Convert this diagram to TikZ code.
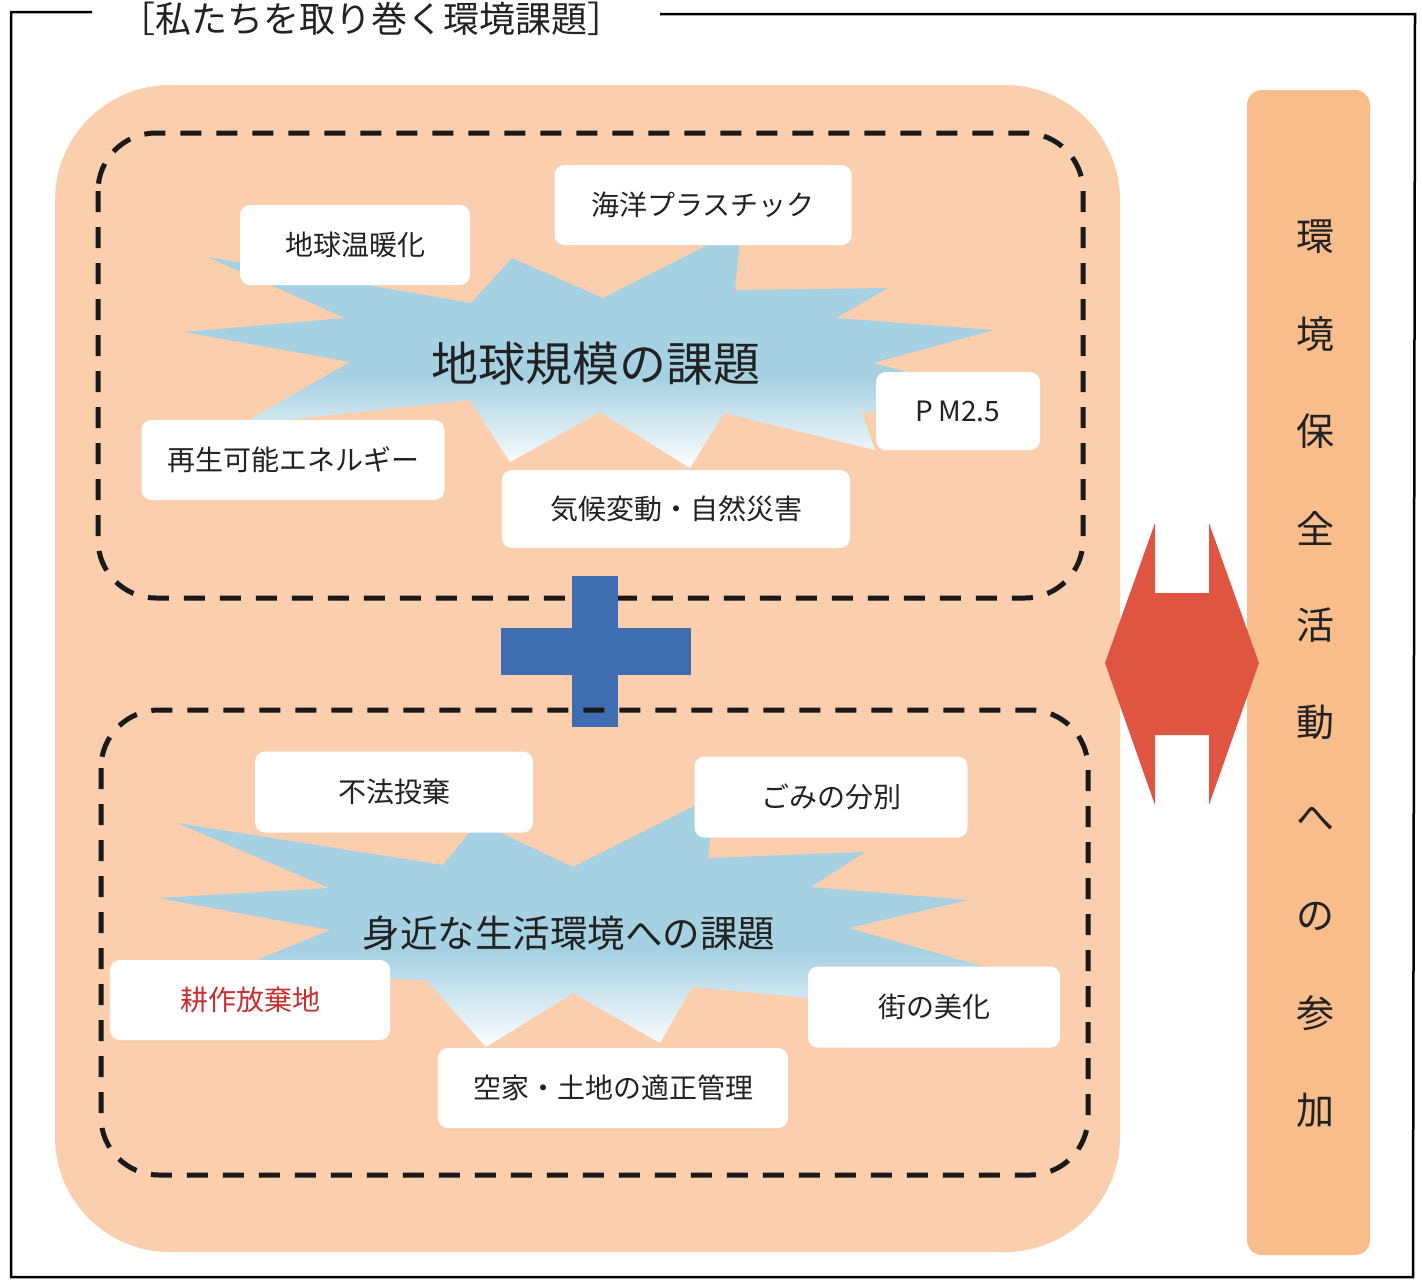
\documentclass[tikz,border=0pt]{standalone}
\usepackage{fontspec}
\setmainfont{Noto Sans CJK JP}
\definecolor{peach}{HTML}{FBCEAE}
\definecolor{colpeach}{HTML}{F8BD8B}
\definecolor{starblue}{HTML}{A6D1E3}
\definecolor{crossblue}{HTML}{3E6EB1}
\definecolor{arrowred}{HTML}{E05442}
\definecolor{labelred}{HTML}{C8302F}
\definecolor{ink}{HTML}{222222}
\pgfdeclareverticalshading{starfade}{100bp}{color(0bp)=(white); color(26bp)=(white!92!starblue); color(44bp)=(starblue); color(100bp)=(starblue)}
\begin{document}
\begin{tikzpicture}[x=1pt,y=-1pt,
  labelbox/.style={fill=white, rounded corners=10pt, inner sep=0pt, text=ink,
    font=\fontsize{28}{30}\selectfont},
  dashbox/.style={draw=black!90, line width=5pt, dash pattern=on 21pt off 15pt, rounded corners=58pt},
  frameline/.style={draw=black, line width=2.5pt},
  starshade/.style={shading=starfade},
  bigtitle/.style={inner sep=0pt, text=ink},
  vchar/.style={inner sep=0pt, text=ink, font=\fontsize{38}{40}\selectfont}]
\useasboundingbox (0,0) rectangle (1422,1280);
\fill[white] (0,0) rectangle (1422,1280);

% outer frame
\coordinate (fl1) at (92,12);
\coordinate (ftl) at (11,12);
\coordinate (fbl) at (11,1277);
\coordinate (fbr) at (1413,1277);
\coordinate (ftr) at (1415,14);
\coordinate (fr1) at (660,14);
\draw[frameline] (fl1) -- (ftl) -- (fbl) -- (fbr) -- (ftr) -- (fr1);
\node[inner sep=0pt, text=ink, font=\fontsize{36}{40}\selectfont] (title) at (371,19) {［私たちを取り巻く環境課題］};

% peach areas
\fill[peach, rounded corners=115pt] (55,85) rectangle (1120,1252);
\fill[colpeach, rounded corners=15pt] (1247,90) rectangle (1370,1255);

% starbursts
\shade[starshade] (184,332) -- (345,318) -- (207,257) -- (471,303) -- (512,258) -- (603,298)
  -- (741,228) -- (735,290) -- (888,288) -- (836,318) -- (994,330) -- (873,363) -- (1005,398)
  -- (862,413) -- (875,450) -- (724,413) -- (690,468) -- (600,412) -- (510,462) -- (470,400)
  -- (240,425) -- (350,362) -- cycle;
\shade[starshade] (158,898) -- (329,888) -- (177,823) -- (443,865) -- (478,822) -- (573,867)
  -- (716,795) -- (708,858) -- (865,852) -- (811,887) -- (968,900) -- (849,928) -- (985,967)
  -- (827,967) -- (830,1000) -- (692,987) -- (660,1043) -- (573,993) -- (486,1047) -- (426,980)
  -- (220,975) -- (330,930) -- cycle;

% upper labels
\node[labelbox, minimum width=230pt, minimum height=80pt] (gw) at (355,245) {地球温暖化};
\node[labelbox, minimum width=297pt, minimum height=80pt] (op) at (703,205) {海洋プラスチック};
\node[labelbox, minimum width=164pt, minimum height=78pt] (pm) at (958,411) {P\kern5pt M2.5};
\node[labelbox, minimum width=303pt, minimum height=80pt] (re) at (293,460) {再生可能エネルギー};
\node[labelbox, minimum width=348pt, minimum height=78pt] (kk) at (676,509) {気候変動・自然災害};
% lower labels
\node[labelbox, minimum width=278pt, minimum height=81pt] (fh) at (394,792) {不法投棄};
\node[labelbox, minimum width=273pt, minimum height=81pt] (gm) at (831,797) {ごみの分別};
\node[labelbox, minimum width=280pt, minimum height=80pt, text=labelred] (ks) at (250,1000) {耕作放棄地};
\node[labelbox, minimum width=252pt, minimum height=81pt] (mb) at (934,1007) {街の美化};
\node[labelbox, minimum width=350pt, minimum height=80pt] (ak) at (613,1088) {空家・土地の適正管理};

% titles
\node[bigtitle, font=\fontsize{47}{50}\selectfont] (global) at (596,364) {地球規模の課題};
\node[bigtitle, font=\fontsize{37.5}{40}\selectfont] (local) at (569,933) {身近な生活環境への課題};

% dashed groups and plus
\draw[dashbox] (98,133) rectangle (1083,598);
\fill[crossblue] (572,576) rectangle (618,727);
\fill[crossblue] (501,628) rectangle (691,675);
\draw[dashbox] (101,710) rectangle (1088,1175);

% double arrow
\fill[arrowred] (1105,663) -- (1155,523) -- (1155,593) -- (1209,593) -- (1209,523) -- (1259,663)
  -- (1209,805) -- (1209,735) -- (1155,735) -- (1155,805) -- cycle;

% vertical text
\foreach \c [count=\i from 0] in {環,境,保,全,活,動,へ,の,参,加} {
  \node[vchar] (v\i) at (1315,{237+97*\i}) {\c};
}
\end{tikzpicture}
\end{document}
